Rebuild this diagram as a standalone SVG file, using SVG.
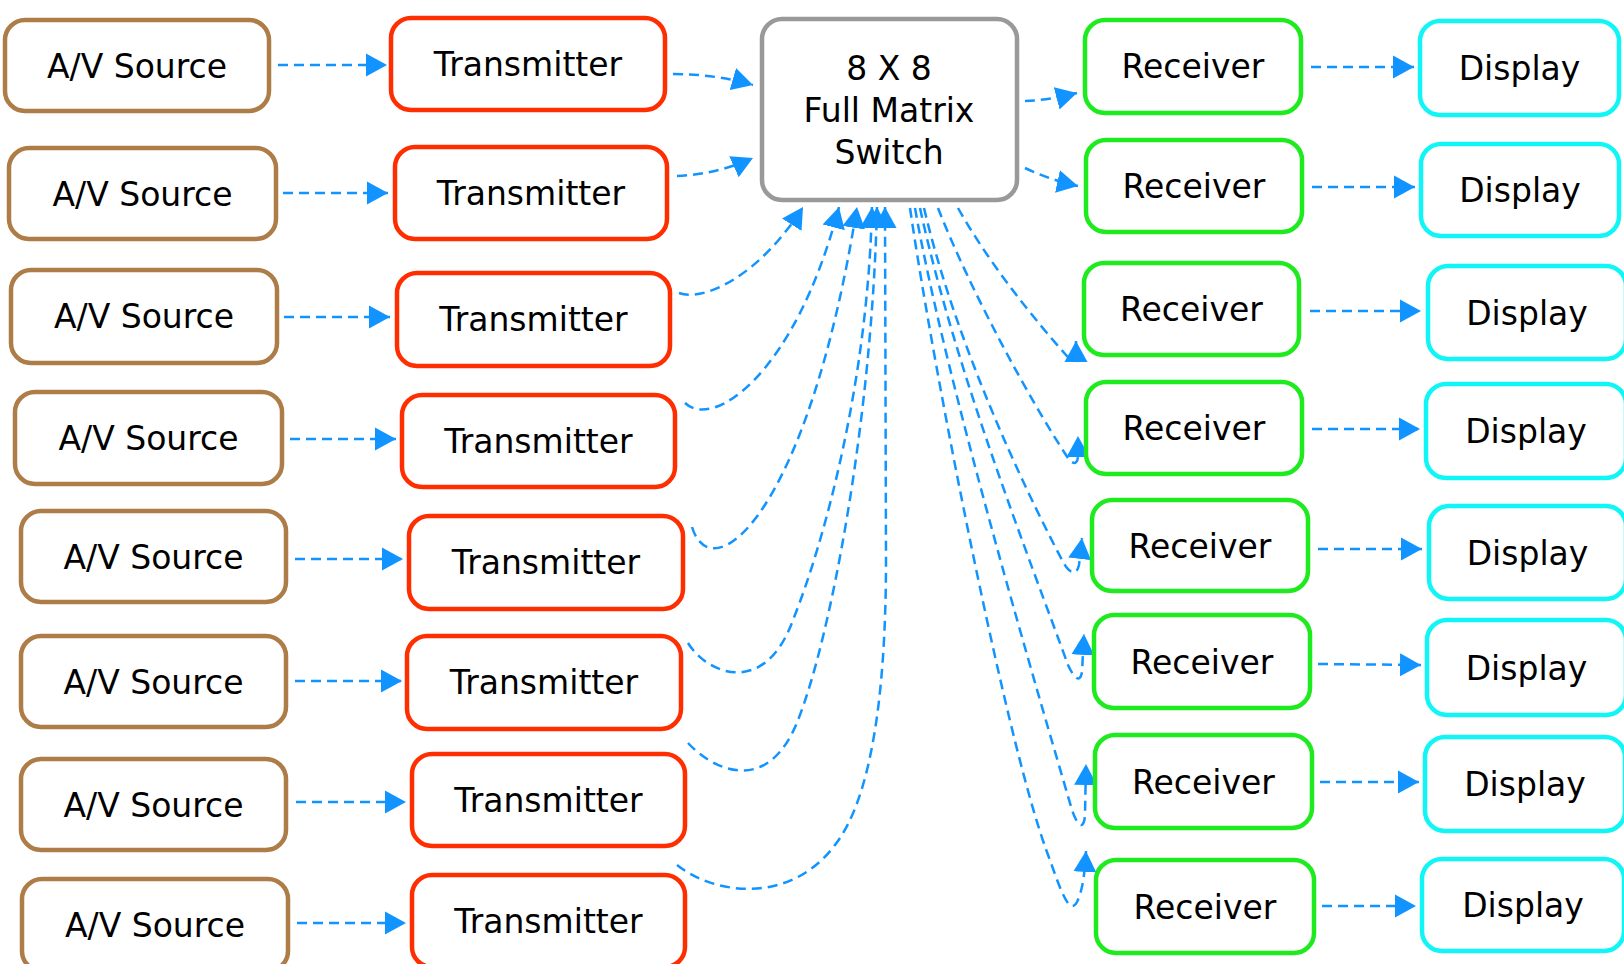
<svg xmlns="http://www.w3.org/2000/svg" width="1624" height="964" viewBox="0 0 1624 964">
<defs>
<style>
.n rect{fill:#fff;stroke-width:4.5}
.src rect{stroke:#ad7c47}
.tx rect{stroke:#ff2e00}
.sw rect{stroke:#999}
.rx rect{stroke:#1eeb1e}
.ds rect{stroke:#10f5f5}
text{font-family:"DejaVu Sans","Liberation Sans",sans-serif;font-size:33px;fill:#000;text-anchor:middle}
#edges path{fill:none;stroke:#1194ff;stroke-width:2.5;stroke-dasharray:10 6;marker-end:url(#a)}
</style>
<marker id="a" markerUnits="userSpaceOnUse" markerWidth="22" markerHeight="24" viewBox="0 0 22 24" refX="21" refY="12" orient="auto">
<path d="M0,0.5 L21,12 L0,23.5 z" fill="#1194ff"/>
</marker>
</defs>
<rect width="1624" height="964" fill="#fff"/>

<g id="edges">
<path d="M278,65 L387,65"/>
<path d="M283,193 L388,193"/>
<path d="M284,317 L390,317"/>
<path d="M290,439 L396,439"/>
<path d="M295,559 L403,559"/>
<path d="M295,681 L402,681"/>
<path d="M296,802 L406,802"/>
<path d="M297,923 L406,923"/>

<path d="M673,74 Q715,74 753,85"/>
<path d="M677,176 Q718,174 753,158"/>
<path d="M679,293 C705,302 760,275 803,207"/>
<path d="M685,403 C713,430 795,375 839,207"/>
<path d="M692,527 C712,592 808,515 857,207"/>
<path d="M688,643 C708,675 765,697 793,620 C825,540 868,380 872,207"/>
<path d="M688,743 C713,770 768,797 798,720 C830,640 872,420 877,207"/>
<path d="M677,865 C715,895 790,905 835,845 C870,800 886,700 886,560 L885,207"/>

<path d="M1025,101 Q1050,100 1077,93"/>
<path d="M1025,168 Q1050,180 1078,186"/>
<path d="M958,208 C990,265 1035,320 1066,355 C1072,362 1076,362 1076,354 L1076,341"/>
<path d="M938,208 C970,290 1030,400 1066,455 C1072,465 1078,466 1078,455 L1078,436"/>
<path d="M924,208 C955,340 1020,480 1062,560 C1068,572 1076,578 1079,565 L1082,538"/>
<path d="M920,208 C955,370 1030,560 1068,665 C1074,678 1080,684 1082,672 L1084,634"/>
<path d="M915,208 C945,380 1040,700 1072,810 C1078,828 1084,830 1085,815 L1086,764"/>
<path d="M910,208 C935,380 1010,760 1050,860 C1062,895 1070,915 1077,902 C1083,890 1085,870 1086,851"/>

<path d="M1311,67 L1414,67"/>
<path d="M1312,187 L1415,187"/>
<path d="M1310,311 L1421,311"/>
<path d="M1312,429 L1420,429"/>
<path d="M1318,549 L1422,549"/>
<path d="M1318,664 L1421,665"/>
<path d="M1320,782 L1419,782"/>
<path d="M1322,906 L1416,906"/>
</g>

<g id="src1" class="n src"><rect x="5" y="20" width="264" height="91" rx="20"/><text x="137" y="78">A/V Source</text></g>
<g id="src2" class="n src"><rect x="9" y="148" width="267" height="91" rx="20"/><text x="142.5" y="206">A/V Source</text></g>
<g id="src3" class="n src"><rect x="11" y="270" width="266" height="93" rx="20"/><text x="144" y="328">A/V Source</text></g>
<g id="src4" class="n src"><rect x="15" y="392" width="267" height="92" rx="20"/><text x="148.5" y="450">A/V Source</text></g>
<g id="src5" class="n src"><rect x="21" y="511" width="265" height="91" rx="20"/><text x="153.5" y="569">A/V Source</text></g>
<g id="src6" class="n src"><rect x="21" y="636" width="265" height="91" rx="20"/><text x="153.5" y="694">A/V Source</text></g>
<g id="src7" class="n src"><rect x="21" y="759" width="265" height="91" rx="20"/><text x="153.5" y="817">A/V Source</text></g>
<g id="src8" class="n src"><rect x="22" y="879" width="266" height="92" rx="20"/><text x="155" y="937">A/V Source</text></g>

<g id="tx1" class="n tx"><rect x="391" y="18" width="274" height="92" rx="20"/><text x="528" y="76">Transmitter</text></g>
<g id="tx2" class="n tx"><rect x="395" y="147" width="272" height="92" rx="20"/><text x="531" y="205">Transmitter</text></g>
<g id="tx3" class="n tx"><rect x="397" y="273" width="273" height="93" rx="20"/><text x="533.5" y="331">Transmitter</text></g>
<g id="tx4" class="n tx"><rect x="402" y="395" width="273" height="92" rx="20"/><text x="538.5" y="453">Transmitter</text></g>
<g id="tx5" class="n tx"><rect x="409" y="516" width="274" height="93" rx="20"/><text x="546" y="574">Transmitter</text></g>
<g id="tx6" class="n tx"><rect x="407" y="636" width="274" height="93" rx="20"/><text x="544" y="694">Transmitter</text></g>
<g id="tx7" class="n tx"><rect x="412" y="754" width="273" height="92" rx="20"/><text x="548.5" y="812">Transmitter</text></g>
<g id="tx8" class="n tx"><rect x="412" y="875" width="273" height="92" rx="20"/><text x="548.5" y="933">Transmitter</text></g>

<g id="switch" class="n sw"><rect x="762" y="19" width="255" height="181" rx="20"/>
<text x="889" y="80">8 X 8</text><text x="889" y="122">Full Matrix</text><text x="889" y="164">Switch</text></g>

<g id="rx1" class="n rx"><rect x="1085" y="20" width="216" height="93" rx="20"/><text x="1193" y="78">Receiver</text></g>
<g id="rx2" class="n rx"><rect x="1086" y="140" width="216" height="92" rx="20"/><text x="1194" y="198">Receiver</text></g>
<g id="rx3" class="n rx"><rect x="1084" y="263" width="215" height="92" rx="20"/><text x="1191.5" y="321">Receiver</text></g>
<g id="rx4" class="n rx"><rect x="1086" y="382" width="216" height="92" rx="20"/><text x="1194" y="440">Receiver</text></g>
<g id="rx5" class="n rx"><rect x="1092" y="500" width="216" height="91" rx="20"/><text x="1200" y="558">Receiver</text></g>
<g id="rx6" class="n rx"><rect x="1094" y="615" width="216" height="93" rx="20"/><text x="1202" y="674">Receiver</text></g>
<g id="rx7" class="n rx"><rect x="1095" y="735" width="217" height="93" rx="20"/><text x="1203.5" y="794">Receiver</text></g>
<g id="rx8" class="n rx"><rect x="1096" y="860" width="218" height="93" rx="20"/><text x="1205" y="919">Receiver</text></g>

<g id="ds1" class="n ds"><rect x="1420" y="21" width="199" height="94" rx="20"/><text x="1519.5" y="80">Display</text></g>
<g id="ds2" class="n ds"><rect x="1421" y="144" width="198" height="92" rx="20"/><text x="1520" y="202">Display</text></g>
<g id="ds3" class="n ds"><rect x="1428" y="266" width="198" height="93" rx="20"/><text x="1527" y="325">Display</text></g>
<g id="ds4" class="n ds"><rect x="1426" y="384" width="200" height="94" rx="20"/><text x="1526" y="443">Display</text></g>
<g id="ds5" class="n ds"><rect x="1429" y="506" width="197" height="93" rx="20"/><text x="1527.5" y="565">Display</text></g>
<g id="ds6" class="n ds"><rect x="1427" y="620" width="199" height="95" rx="20"/><text x="1526.5" y="680">Display</text></g>
<g id="ds7" class="n ds"><rect x="1425" y="737" width="200" height="94" rx="20"/><text x="1525" y="796">Display</text></g>
<g id="ds8" class="n ds"><rect x="1422" y="859" width="202" height="92" rx="20"/><text x="1523" y="917">Display</text></g>
</svg>
